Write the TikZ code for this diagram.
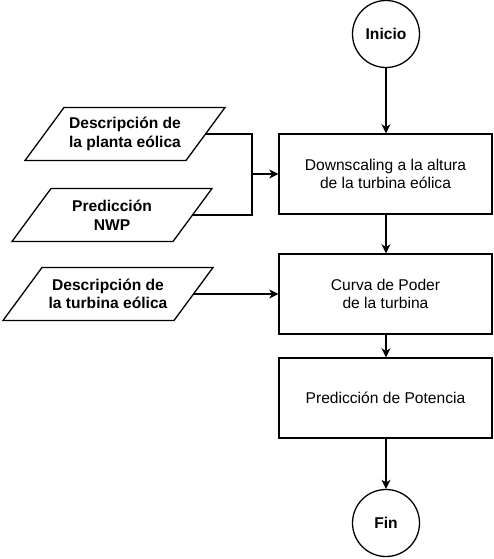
\documentclass[tikz,border=0pt]{standalone}
\usepackage{fontspec}
\setmainfont{Liberation Sans}
\usetikzlibrary{arrows.meta}
\begin{document}
\begin{tikzpicture}[x=1pt,y=-1pt,
  every node/.style={font=\fontsize{15.6}{18.7}\selectfont, align=center},
  proc/.style={draw, line width=1.3pt, minimum width=213pt, minimum height=80pt, inner sep=0pt},
  term/.style={draw, circle, line width=1.3pt, minimum size=67pt, inner sep=0pt, font=\fontsize{15.6}{18.7}\selectfont\bfseries},
  io/.style={draw, line width=1.3pt, line join=miter},
  iotext/.style={font=\fontsize{15.6}{18.7}\selectfont\bfseries},
  conn/.style={line width=1.3pt, -{Stealth[length=9pt,width=9pt,inset=2.5pt]}},
  link/.style={line width=1.3pt}]
\useasboundingbox (0,0) rectangle (493,559);

% terminals and processes
\node[term] (ini) at (386,34) {Inicio};
\node[proc] (b1) at (385.5,174) {Downscaling a la altura\\de la turbina eólica};
\node[proc] (b2) at (385.5,294) {Curva de Poder\\de la turbina};
\node[proc] (b3) at (385.5,398) {Predicción de Potencia};
\node[term] (fin) at (386,523) {Fin};

% inputs (parallelograms)
\draw[io] (25,160.5) -- (64,107.5) -- (225,107.5) -- (186,160.5) -- cycle;
\coordinate (p1r) at (205.5,134);
\node[iotext] (p1) at (125,134) {Descripción de\\la planta eólica};

\draw[io] (12,241.5) -- (51,188.5) -- (212,188.5) -- (173,241.5) -- cycle;
\coordinate (p2r) at (192.5,215);
\node[iotext] (p2) at (112,215) {Predicción\\NWP};

\draw[io] (3,320.5) -- (42,267.5) -- (213,267.5) -- (174,320.5) -- cycle;
\coordinate (p3r) at (193.5,294);
\node[iotext] (p3) at (108,294) {Descripción de\\la turbina eólica};

% connectors
\coordinate (j) at (252,174);
\draw[link] (p1r) -| (j);
\draw[link] (p2r) -| (j);
\draw[conn] (j) -- (b1.west);
\draw[conn] (p3r) -- (b2.west);

\draw[conn] (ini.south) -- (ini.south |- b1.north);
\draw[conn] (b1.south -| ini) -- (ini |- b2.north);
\draw[conn] (b2.south -| ini) -- (ini |- b3.north);
\draw[conn] (b3.south -| ini) -- (fin.north);
\end{tikzpicture}
\end{document}
